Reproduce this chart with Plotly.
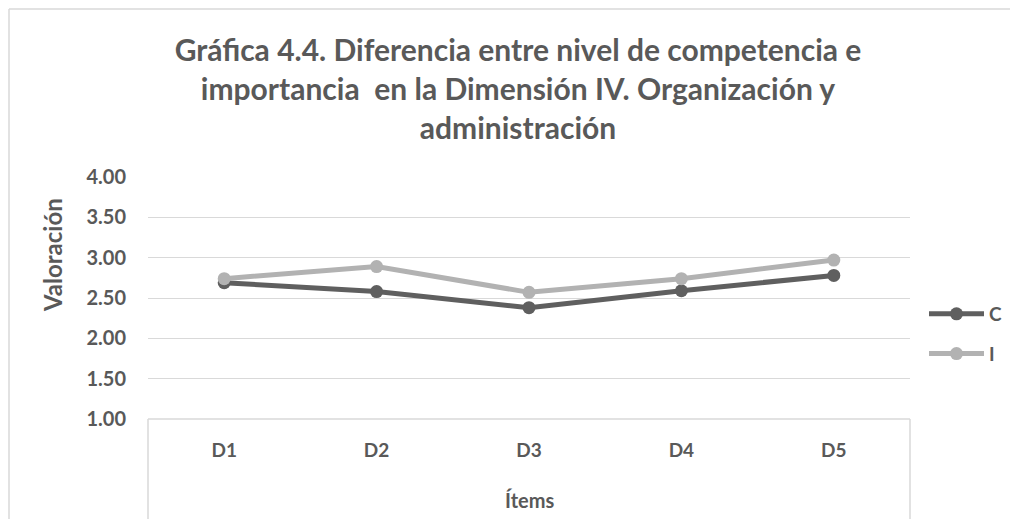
import plotly.graph_objects as go

items = ["D1", "D2", "D3", "D4", "D5"]
competencia = [2.69, 2.58, 2.38, 2.59, 2.78]
importancia = [2.74, 2.89, 2.57, 2.74, 2.97]
y_ticks = [1.0, 1.5, 2.0, 2.5, 3.0, 3.5, 4.0]

TEXT = "#595959"
FONT = "Lato"

# page offset (body margin) and plot area in reference pixels
OFF = 8
W, H = 1018, 519
L, R, T, B = 148 - OFF, 910 - OFF, 177 - OFF, 419 - OFF


def px_x(p):
    return (p - OFF - L) / (R - L)


def px_y(p):
    return (B - (p - OFF)) / (B - T)


fig = go.Figure()
fig.add_trace(go.Scatter(
    x=items, y=competencia, name="C", mode="lines+markers",
    line=dict(color="#5f5f5f", width=5), marker=dict(size=13, color="#5f5f5f"),
    legendgroup="c",
))
fig.add_trace(go.Scatter(
    x=items, y=importancia, name="I", mode="lines+markers",
    line=dict(color="#b2b2b2", width=5), marker=dict(size=13, color="#b2b2b2"),
    legendgroup="i",
))

fig.update_layout(
    width=W, height=H,
    margin=dict(l=L, r=W - R, t=T, b=H - B),
    paper_bgcolor="white", plot_bgcolor="white",
    font=dict(family=FONT, color=TEXT),
    title=dict(
        text="<b>Gráfica 4.4. Diferencia entre nivel de competencia e<br>"
             "importancia  en la Dimensión IV. Organización y<br>administración</b>",
        x=px_x(518), xanchor="center", xref="paper",
        y=1 - (61 - OFF) / H, yanchor="middle",
        font=dict(size=30, color=TEXT, family=FONT),
    ),
    showlegend=True,
    legend=dict(
        x=px_x(924), y=px_y(295), xanchor="left", yanchor="top",
        font=dict(size=19, color=TEXT, family=FONT, weight="bold"),
        traceorder="grouped", tracegroupgap=12,
        itemwidth=55, bgcolor="rgba(0,0,0,0)",
    ),
)

fig.update_xaxes(
    type="category", range=[-0.5, 4.5], showgrid=False, zeroline=False,
    showline=False, ticks="", ticklabelstandoff=18,
    tickfont=dict(size=19, color=TEXT, family=FONT, weight="bold"),
)
fig.update_yaxes(
    range=[1, 4], tickvals=y_ticks, tickformat=".2f",
    showgrid=True, gridcolor="#d9d9d9", gridwidth=1, zeroline=False,
    showline=False, ticks="", ticklabelstandoff=21,
    tickfont=dict(size=20, color=TEXT, family=FONT, weight="bold"),
)

# axis titles
fig.add_annotation(text="Ítems", xref="paper", yref="paper",
                   x=0.5, y=px_y(500), xanchor="center", yanchor="middle",
                   showarrow=False,
                   font=dict(size=20, color=TEXT, family=FONT, weight="bold"))
fig.add_annotation(text="Valoración", xref="paper", yref="paper",
                   x=px_x(52), y=px_y(255), xanchor="center", yanchor="middle",
                   showarrow=False, textangle=-90,
                   font=dict(size=24, color=TEXT, family=FONT, weight="bold"))

# category axis box extending below the plot
edge = dict(color="#d9d9d9", width=1.5)
fig.add_shape(type="line", xref="paper", yref="paper",
              x0=0, x1=1, y0=0, y1=0, line=edge)
fig.add_shape(type="line", xref="paper", yref="paper",
              x0=0, x1=0, y0=0, y1=px_y(H + OFF), line=edge)
fig.add_shape(type="line", xref="paper", yref="paper",
              x0=1, x1=1, y0=0, y1=px_y(H + OFF), line=edge)

# chart border
fig.add_shape(type="line", xref="paper", yref="paper",
              x0=px_x(OFF + 1), x1=px_x(W + OFF), y0=px_y(OFF + 1), y1=px_y(OFF + 1),
              line=edge)
fig.add_shape(type="line", xref="paper", yref="paper",
              x0=px_x(OFF + 1), x1=px_x(OFF + 1), y0=px_y(OFF + 1), y1=px_y(H + OFF),
              line=edge)

fig.write_html("out.html")
